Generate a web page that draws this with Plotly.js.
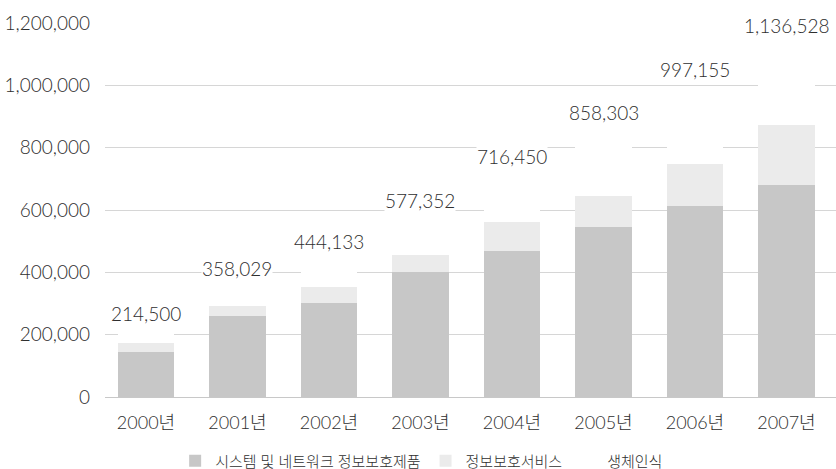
<!DOCTYPE html>
<html>
<head>
<meta charset="utf-8">
<script src="https://cdn.plot.ly/plotly-3.0.1.min.js"></script>
<style>
  html, body { margin: 0; padding: 0; background: #ffffff; }
  #chart { width: 836px; height: 469px; }
</style>
</head>
<body>
<div id="chart"></div>
<script>
// Categories (years)
const years = ['2000년', '2001년', '2002년', '2003년', '2004년', '2005년', '2006년', '2007년'];
// Series names
const seriesNames = ['시스템 및 네트워크 정보보호제품', '정보보호서비스', '생체인식'];
// Series values
const products  = [145000, 261500, 302500, 401000, 467500, 546000, 613000, 679000];
const services  = [28500, 31000, 49500, 55000, 95500, 100000, 134000, 193000];
const biometric = [41000, 65529, 92133, 121352, 153450, 212303, 250155, 264528];
// Totals printed above the bars
const totals = [214500, 358029, 444133, 577352, 716450, 858303, 997155, 1136528];
// Y-axis tick values
const yTicks = [0, 200000, 400000, 600000, 800000, 1000000, 1200000];

const FONT = 'Lato, "Noto Sans CJK KR", "Noto Sans", sans-serif';
const TXT = '#2e2e2e';
const W = 300;

const traces = [
  { type: 'bar', name: seriesNames[0], x: years, y: products,
    marker: { color: '#c7c7c7', line: { width: 0 } } },
  { type: 'bar', name: seriesNames[1], x: years, y: services,
    marker: { color: '#ebebeb', line: { width: 0 } } },
  { type: 'bar', name: seriesNames[2], x: years, y: biometric,
    marker: { color: '#ffffff', line: { width: 0 } } }
];

const annotations = years.map((yr, i) => ({
  x: yr, y: totals[i], xref: 'x', yref: 'y',
  text: totals[i].toLocaleString('en-US'),
  showarrow: false, yanchor: 'middle', yshift: 17,
  bgcolor: '#ffffff', borderpad: 0,
  font: { family: FONT, size: 19, color: TXT, weight: W }
}));

const layout = {
  width: 836, height: 469,
  margin: { l: 105, r: 0, t: 23, b: 72, pad: 0 },
  paper_bgcolor: '#ffffff', plot_bgcolor: '#ffffff',
  barmode: 'stack', bargap: 0.385,
  showlegend: true,
  font: { family: FONT, size: 18, color: TXT, weight: W },
  xaxis: {
    type: 'category', range: [-0.448, 7.541],
    showgrid: false, zeroline: false, showline: false, ticks: '',
    ticklabelstandoff: 13,
    tickfont: { family: FONT, size: 18, color: TXT, weight: W }
  },
  yaxis: {
    range: [0, 1200000], tickvals: yTicks, tickformat: ',d',
    showgrid: true, gridcolor: '#d6d6d6', gridwidth: 1,
    zeroline: true, zerolinecolor: '#c8c8c8', zerolinewidth: 1,
    showline: false, ticks: '', ticklabelstandoff: 14,
    tickfont: { family: FONT, size: 19, color: TXT, weight: W }
  },
  legend: {
    orientation: 'h', traceorder: 'normal',
    xref: 'container', yref: 'container',
    x: 0.2095, xanchor: 'left', y: 0.017, yanchor: 'middle',
    bgcolor: 'rgba(0,0,0,0)',
    font: { family: FONT, size: 15, color: TXT, weight: W }
  },
  annotations: annotations,
  hovermode: false
};

Plotly.newPlot('chart', traces, layout, { staticPlot: true, displayModeBar: false });
</script>
</body>
</html>
